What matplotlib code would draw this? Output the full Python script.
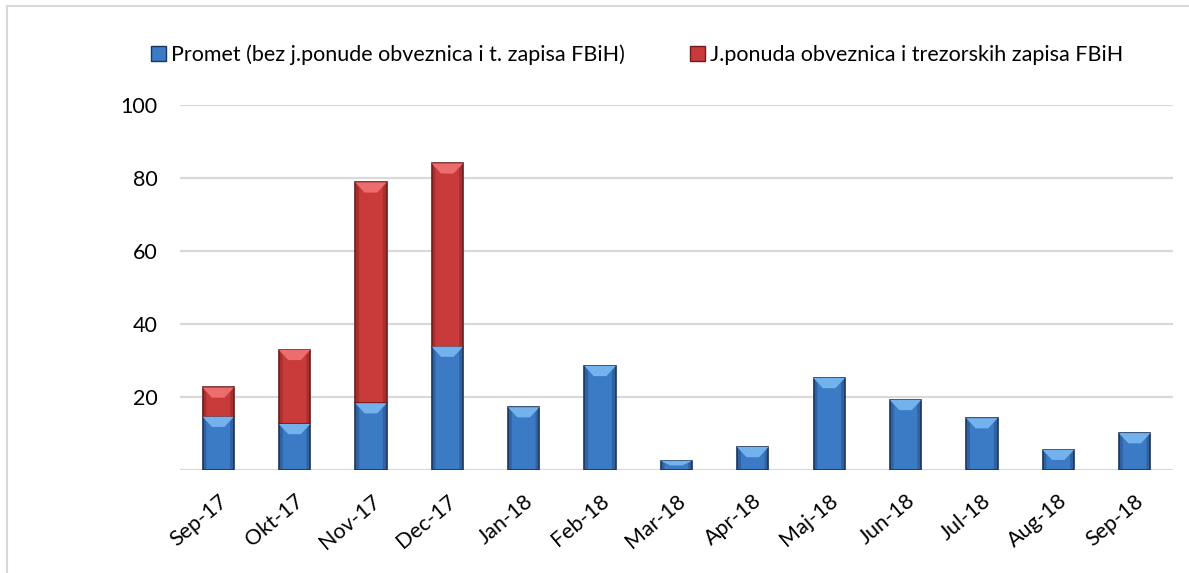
import matplotlib
matplotlib.use("Agg")
import matplotlib.pyplot as plt
from matplotlib.patches import Polygon, Patch
from matplotlib.lines import Line2D

months = ['Sep-17', 'Okt-17', 'Nov-17', 'Dec-17', 'Jan-18', 'Feb-18', 'Mar-18',
          'Apr-18', 'Maj-18', 'Jun-18', 'Jul-18', 'Aug-18', 'Sep-18']
promet = [14.6, 12.6, 18.3, 33.8, 17.2, 28.5, 2.5, 6.3, 25.2, 19.2, 14.2, 5.5, 10.1]
jponuda = [8.0, 20.3, 60.5, 50.2, 0, 0, 0, 0, 0, 0, 0, 0, 0]
yticks = [0, 20, 40, 60, 80, 100]
ylabels = ['', '20', '40', '60', '80', '100']

plt.rcParams['font.family'] = ['Lato', 'DejaVu Sans']

fig = plt.figure(figsize=(11.89, 5.73), dpi=100)
ax = fig.add_axes([0.1514, 0.1798, 0.835, 0.637])

x = range(len(months))
blue, blue_top, blue_edge = '#3b7ac4', '#74b2ee', '#1c355e'
red, red_top, red_edge = '#c93a3a', '#ec6d6d', '#6e1c1c'

b1 = ax.bar(x, promet, width=0.41, color=blue, edgecolor=blue_edge, linewidth=1.2, zorder=3)
b2 = ax.bar(x, jponuda, width=0.41, bottom=promet, color=red, edgecolor=red_edge,
            linewidth=1.2, zorder=3)
for p in b2:
    if p.get_height() <= 0:
        p.set_visible(False)


# bevel look: light cap on top of each bar segment + darker sides
def bevel(bars, col, side):
    for p in bars:
        h = p.get_height()
        if h <= 0:
            continue
        x0, y0, w = p.get_x(), p.get_y(), p.get_width()
        bh = min(2.8, h * 0.5)
        top = y0 + h
        ax.add_patch(Polygon([(x0, top), (x0 + w, top), (x0 + w * 0.7, top - bh), (x0 + w * 0.3, top - bh)],
                             closed=True, facecolor=col, edgecolor='none', zorder=4))
        sw = w * 0.12
        ax.add_patch(Polygon([(x0, y0), (x0 + sw, y0), (x0 + sw, top - bh * 0.5), (x0, top)],
                             closed=True, facecolor=side, edgecolor='none', alpha=0.35, zorder=4))
        ax.add_patch(Polygon([(x0 + w, y0), (x0 + w - sw, y0), (x0 + w - sw, top - bh * 0.5), (x0 + w, top)],
                             closed=True, facecolor=side, edgecolor='none', alpha=0.35, zorder=4))


bevel(b1, blue_top, blue_edge)
bevel(b2, red_top, red_edge)

ax.set_ylim(0, 100)
ax.set_xlim(-0.5, len(months) - 0.5)
ax.set_yticks(yticks)
ax.set_yticklabels(ylabels, fontsize=15.5)
ax.set_xticks(list(x))
ax.set_xticklabels(months, fontsize=15.5, rotation=40, ha='right', rotation_mode='anchor')
ax.tick_params(axis='both', length=0)
ax.tick_params(axis='y', pad=16)
ax.tick_params(axis='x', pad=15)
ax.grid(axis='y', color='#d9d9d9', linewidth=1.6, zorder=0)
for s in ax.spines.values():
    s.set_visible(False)

handles = [Patch(facecolor=blue, edgecolor=blue_edge, label='Promet (bez j.ponude obveznica i t. zapisa FBiH)'),
           Patch(facecolor=red, edgecolor=red_edge, label='J.ponuda obveznica i trezorskih zapisa FBiH')]
fig.legend(handles=handles, loc='center', bbox_to_anchor=(0.536, 0.904), ncol=2, frameon=False,
           fontsize=15.5, handlelength=0.7, handleheight=0.7, handletextpad=0.25, columnspacing=3.0)

# light frame at top and left
fig.add_artist(Line2D([7 / 1189, 7 / 1189], [0, 1 - 6 / 573], transform=fig.transFigure, color='#d9d9d9', lw=1.5))
fig.add_artist(Line2D([7 / 1189, 1], [1 - 6 / 573, 1 - 6 / 573], transform=fig.transFigure, color='#d9d9d9', lw=1.5))

fig.savefig('out.png', dpi=100)
